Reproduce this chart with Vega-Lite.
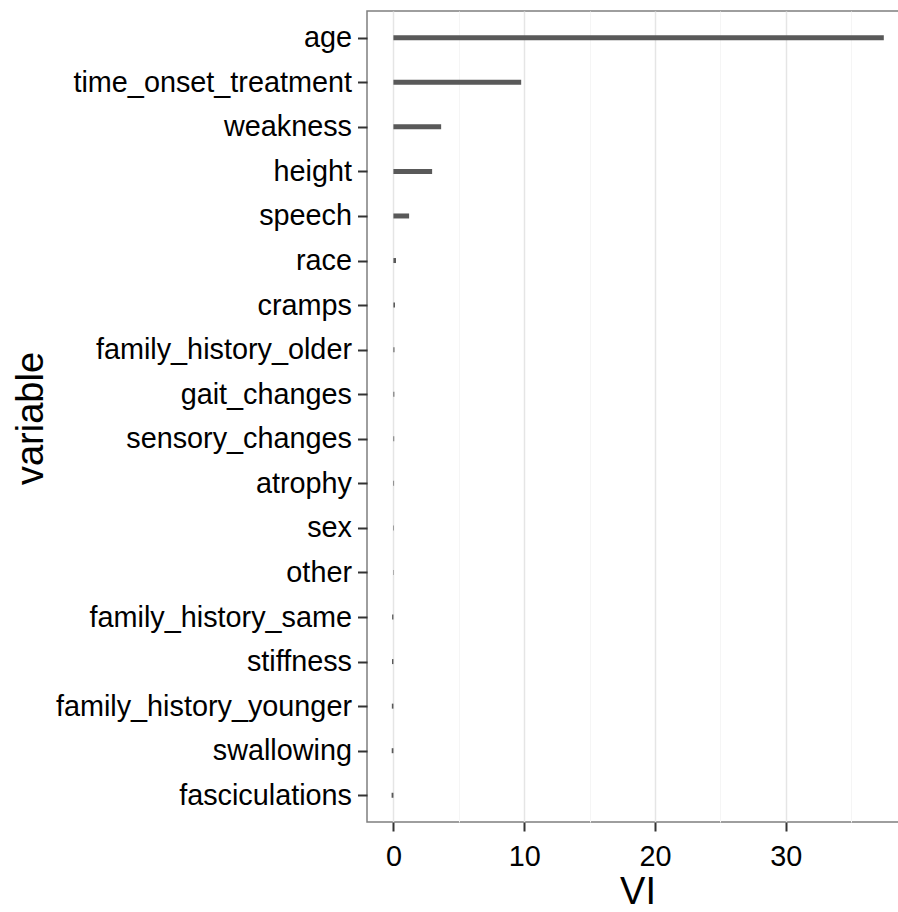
{
  "$schema": "https://vega.github.io/schema/vega-lite/v6.json",
  "width": 541,
  "height": 811,
  "autosize": {"type": "none"},
  "padding": {"left": 367, "top": 11, "right": -10, "bottom": 90},
  "background": "white",
  "config": {
    "font": "Liberation Sans",
    "view": {"stroke": "#7f7f7f", "strokeWidth": 1.5},
    "axis": {
      "labelFont": "Liberation Sans",
      "titleFont": "Liberation Sans",
      "labelColor": "black",
      "titleColor": "black",
      "labelFontSize": 28.8,
      "labelLimit": 0,
      "titleFontSize": 38,
      "titleFontWeight": "normal",
      "tickColor": "#333333",
      "tickWidth": 2,
      "domain": false
    }
  },
  "data": {
    "values": [
      {"variable": "age", "VI": 37.5},
      {"variable": "time_onset_treatment", "VI": 9.77},
      {"variable": "weakness", "VI": 3.65},
      {"variable": "height", "VI": 2.96},
      {"variable": "speech", "VI": 1.2},
      {"variable": "race", "VI": 0.2},
      {"variable": "cramps", "VI": 0.12},
      {"variable": "family_history_older", "VI": 0.08},
      {"variable": "gait_changes", "VI": 0.07},
      {"variable": "sensory_changes", "VI": 0.06},
      {"variable": "atrophy", "VI": 0.05},
      {"variable": "sex", "VI": 0.04},
      {"variable": "other", "VI": 0.03},
      {"variable": "family_history_same", "VI": -0.1},
      {"variable": "stiffness", "VI": -0.11},
      {"variable": "family_history_younger", "VI": -0.12},
      {"variable": "swallowing", "VI": -0.13},
      {"variable": "fasciculations", "VI": -0.14}
    ]
  },
  "mark": {"type": "rule", "strokeWidth": 5, "color": "#595959", "strokeCap": "butt"},
  "encoding": {
    "y": {
      "field": "variable",
      "type": "nominal",
      "sort": null,
      "scale": {"type": "point", "padding": 0.6},
      "axis": {
        "title": "variable",
        "titleAngle": 270,
        "titleBaseline": "alphabetic",
        "titleX": -325,
        "titleY": 407,
        "tickSize": 9.5,
        "labelPadding": 6,
        "grid": false
      }
    },
    "x": {
      "field": "VI",
      "type": "quantitative",
      "scale": {"domain": [-2.02, 39.35], "nice": false, "zero": false},
      "axis": {
        "title": "VI",
        "titleBaseline": "alphabetic",
        "titleY": 81,
        "values": [0, 5, 10, 15, 20, 25, 30, 35],
        "labelExpr": "datum.value % 10 === 0 ? datum.label : ''",
        "tickOpacity": {"condition": {"test": "datum.value % 10 === 0", "value": 1}, "value": 0},
        "tickSize": 9,
        "labelPadding": 11,
        "grid": true,
        "gridColor": {"condition": {"test": "datum.value % 10 === 0", "value": "#e5e5e5"}, "value": "#f5f5f5"},
        "gridWidth": {"condition": {"test": "datum.value % 10 === 0", "value": 1.5}, "value": 1}
      }
    },
    "x2": {"datum": 0}
  }
}
